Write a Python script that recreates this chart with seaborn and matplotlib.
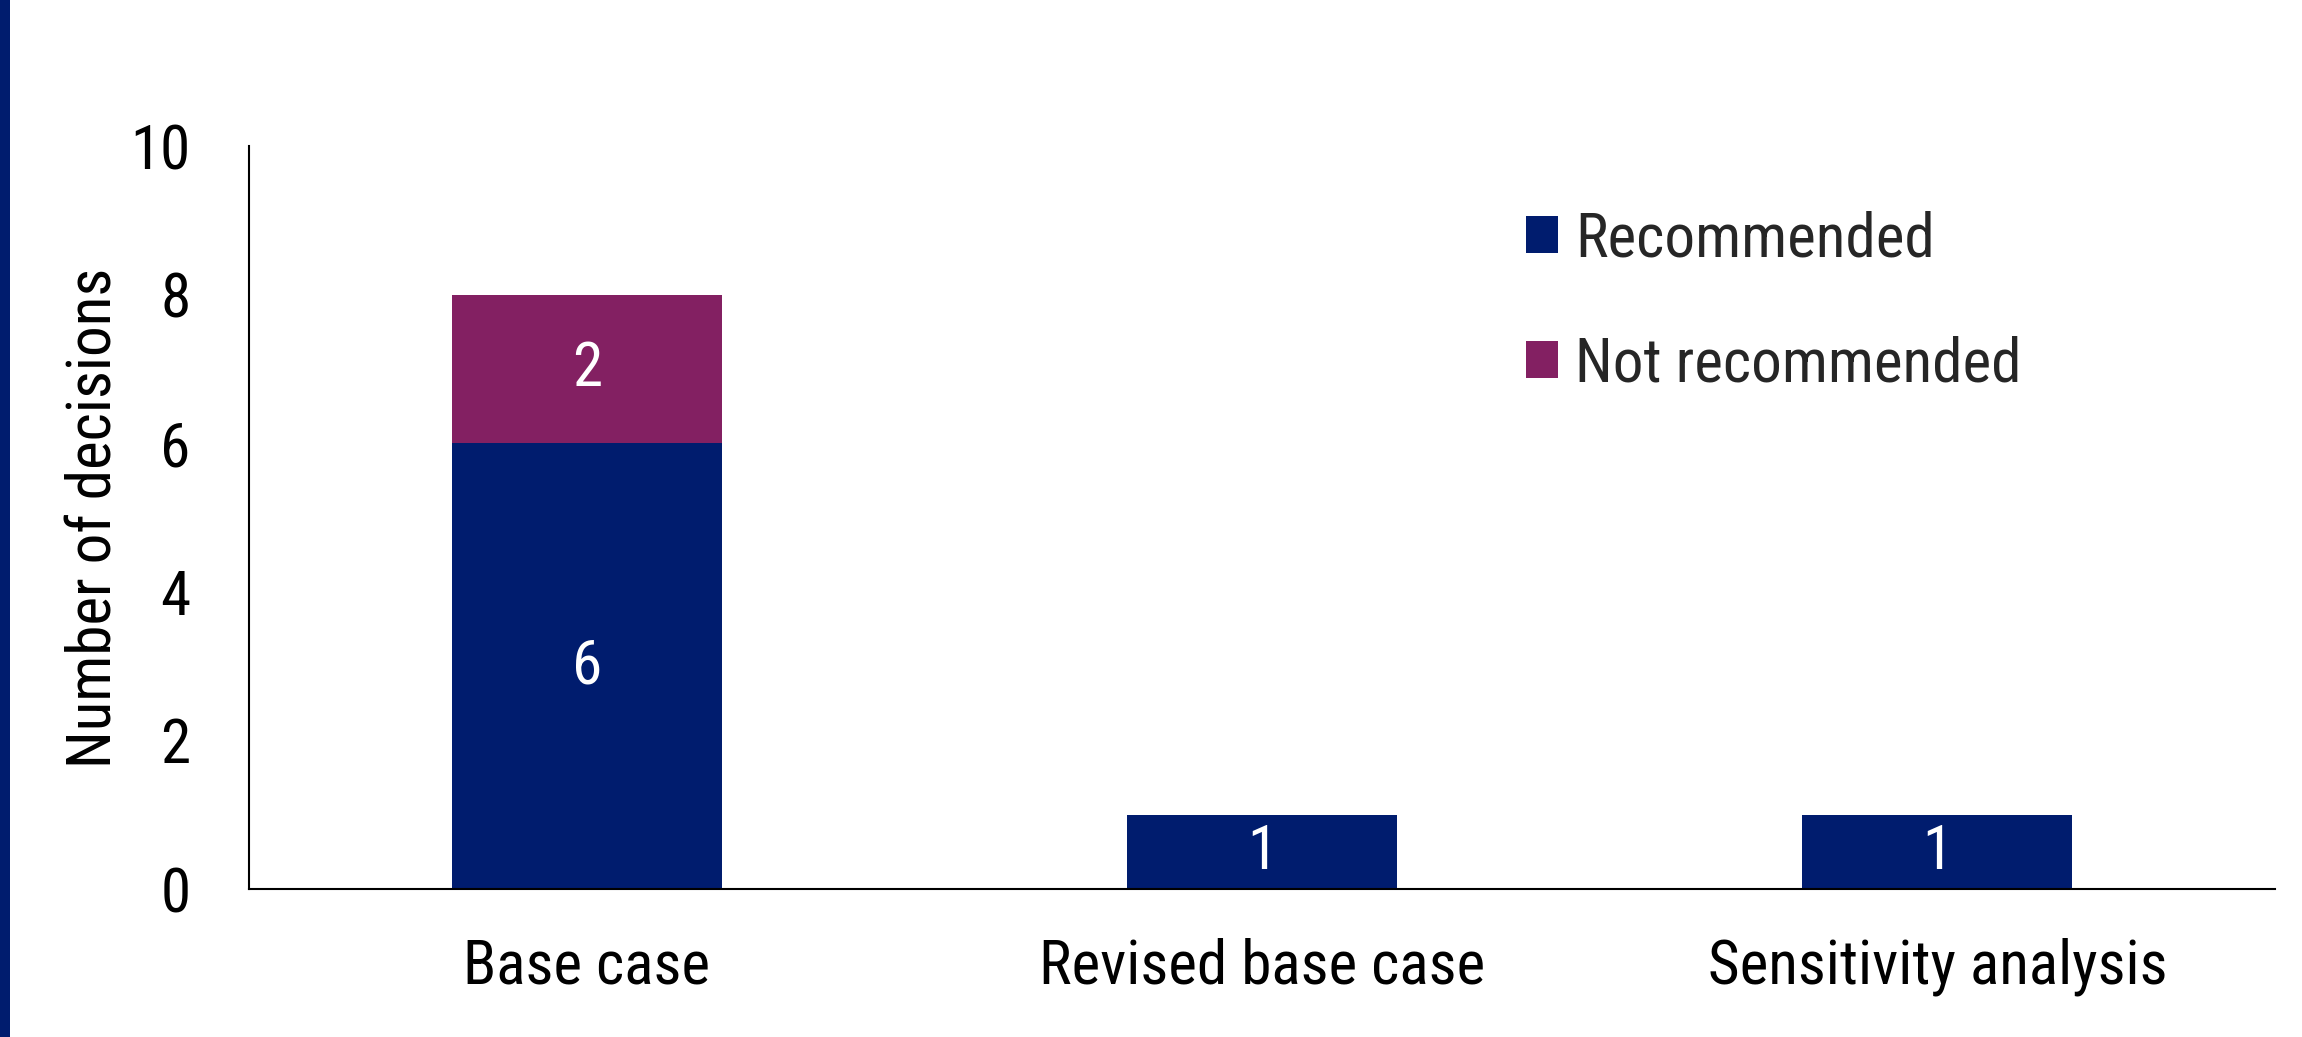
import matplotlib
matplotlib.use("Agg")
import matplotlib.pyplot as plt
import seaborn as sns
import pandas as pd
from matplotlib.patches import Patch, Rectangle

categories = ["Base case", "Revised base case", "Sensitivity analysis"]
recommended = [6, 1, 1]
not_recommended = [2, 0, 0]
series_names = ["Recommended", "Not recommended"]
y_ticks = [0, 2, 4, 6, 8, 10]

NAVY = "#001C6E"
PURPLE = "#832062"
FS = 44

sns.set_theme(style="white")
plt.rcParams["font.family"] = ["Roboto Condensed", "Liberation Sans", "DejaVu Sans"]

df = pd.DataFrame({
    "category": categories,
    "Recommended": recommended,
    "Not recommended": not_recommended,
})
df["total"] = df["Recommended"] + df["Not recommended"]

fig = plt.figure(figsize=(23.02, 10.37), dpi=100)
ax = fig.add_axes([0.1082, 0.1427, 0.8801, 0.7163])

sns.barplot(data=df, x="category", y="total", color=PURPLE, width=0.4,
            saturation=1, ax=ax, edgecolor="none")
sns.barplot(data=df, x="category", y="Recommended", color=NAVY, width=0.4,
            saturation=1, ax=ax, edgecolor="none")

for i, (r, n) in enumerate(zip(recommended, not_recommended)):
    if r > 0:
        ax.text(i, r / 2, str(r), ha="center", va="center", color="white", fontsize=FS)
    if n > 0:
        ax.text(i, r + n / 2, str(n), ha="center", va="center", color="white", fontsize=FS)

ax.set_xlim(-0.5, 2.5)
ax.set_ylim(0, 10)
ax.set_yticks(y_ticks)
ax.set_yticklabels([str(t) for t in y_ticks])
ax.set_xlabel("")
ax.set_ylabel("Number of decisions", fontsize=FS, labelpad=5, color="black")
ax.tick_params(axis="y", length=0, pad=42, labelsize=FS, colors="black")
ax.tick_params(axis="x", length=0, pad=35, labelsize=FS, colors="black")

for s in ["top", "right"]:
    ax.spines[s].set_visible(False)
for s in ["left", "bottom"]:
    ax.spines[s].set_color("black")
    ax.spines[s].set_linewidth(1.5)

handles = [Patch(facecolor=NAVY, edgecolor="none"), Patch(facecolor=PURPLE, edgecolor="none")]
fig.legend(handles, series_names, loc="center left", bbox_to_anchor=(0.663, 0.709),
           frameon=False, fontsize=FS, handlelength=0.52, handleheight=0.55,
           handletextpad=0.28, labelspacing=1.1, borderpad=0, borderaxespad=0)

fig.patches.append(Rectangle((0, 0), 10 / 2302, 1, transform=fig.transFigure,
                             facecolor=NAVY, edgecolor="none"))

fig.savefig("out.png", dpi=100)
